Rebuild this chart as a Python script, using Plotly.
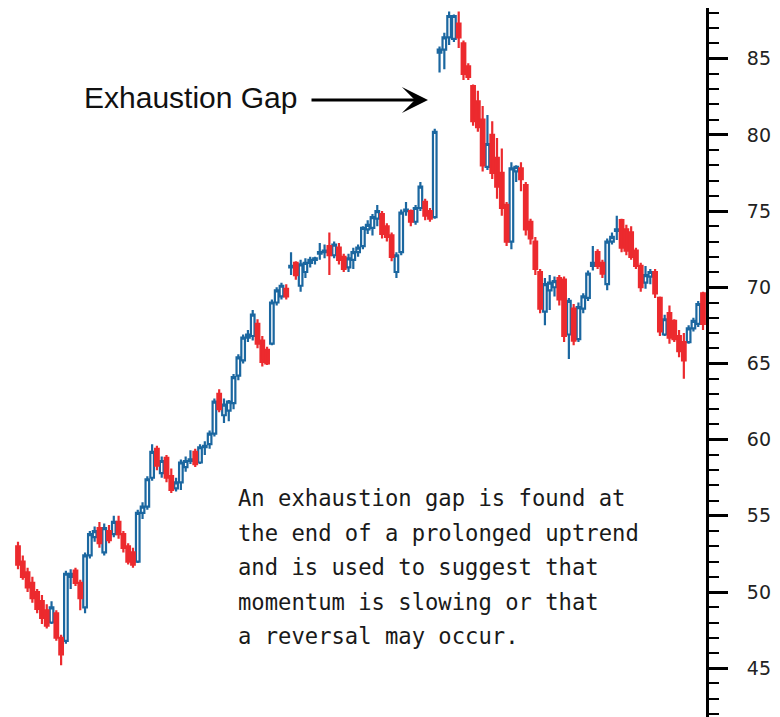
import plotly.graph_objects as go

# ---- data (price per trading session) ----
opens = [53.0, 52.0, 51.3, 50.6, 50.0, 49.4, 48.8, 48.0, 48.6, 47.0,
         46.8, 51.0, 51.4, 50.6, 49.0, 52.4, 53.6, 54.2, 52.6, 54.0,
         53.8, 54.6, 53.8, 53.0, 52.6, 52.0, 55.2, 55.6, 57.5, 59.4,
         57.8, 58.8, 57.6, 56.8, 57.2, 58.2, 58.6, 59.2, 58.5, 59.5,
         59.7, 60.4, 63.0, 61.6, 61.9, 62.4, 64.2, 65.2, 66.7, 66.8,
         67.6, 66.5, 65.9, 66.3, 69.0, 69.4, 69.9, 71.3, 71.6, 70.1,
         71.0, 71.6, 71.8, 72.2, 72.3, 72.7, 72.1, 72.6, 72.0, 71.3,
         71.8, 72.3, 72.7, 73.8, 73.9, 74.5, 74.8, 74.0, 73.4, 71.0,
         72.3, 75.0, 75.0, 74.3, 75.2, 75.6, 75.0, 74.6,
         85.4, 85.6, 86.4, 86.3, 87.3, 86.0, 84.5, 83.2, 82.2, 81.0,
         77.9, 80.0, 78.5, 77.5, 75.4, 73.0, 77.6, 77.8, 76.7, 74.3,
         73.0, 71.0, 68.4, 69.8, 70.0, 70.6,
         70.5, 66.9, 68.6, 66.6, 68.6, 69.3, 71.4, 72.3, 71.6, 70.2,
         73.0, 73.7, 74.4, 73.8, 73.6, 72.4, 71.4, 70.3, 70.7, 71.0,
         69.3, 66.9, 68.3, 67.8, 66.8, 66.4, 66.4, 67.3, 67.6, 69.6]
highs = [53.3, 52.4, 51.6, 51.0, 50.2, 49.8, 49.2, 49.4, 48.8, 47.2,
         51.4, 51.5, 51.6, 50.8, 52.6, 54.0, 54.3, 54.6, 54.5, 54.4,
         55.0, 55.0, 54.0, 53.2, 52.9, 55.4, 55.9, 57.6, 59.7, 59.6,
         58.9, 59.0, 58.1, 57.5, 58.7, 58.9, 59.3, 59.4, 59.7, 59.9,
         60.6, 62.7, 63.3, 62.7, 62.6, 64.3, 65.6, 66.9, 67.2, 68.5,
         67.9, 66.8, 66.1, 69.2, 70.0, 70.3, 70.2, 72.3, 71.7, 71.8,
         71.9, 72.0, 72.0, 72.9, 72.8, 73.6, 73.0, 72.9, 72.2, 72.2,
         72.6, 72.8, 74.0, 74.4, 74.8, 75.4, 75.0, 74.2, 73.6, 72.3,
         75.1, 75.6, 75.1, 75.4, 76.9, 75.8, 75.2, 80.4,
         85.8, 86.7, 88.1, 87.9, 88.1, 86.2, 84.7, 83.3, 82.9, 81.9,
         81.3, 80.9, 79.8, 79.1, 75.6, 78.2, 78.0, 78.2, 76.9, 74.5,
         73.3, 71.2, 70.6, 70.8, 70.7, 70.8,
         70.7, 69.3, 68.9, 69.0, 69.6, 71.1, 72.7, 72.5, 71.8, 73.2,
         73.6, 74.7, 74.5, 74.1, 74.0, 72.6, 71.6, 71.4, 71.2, 71.2,
         69.4, 68.2, 68.8, 67.9, 67.2, 67.0, 67.5, 68.0, 69.1, 69.7]
lows = [51.5, 50.8, 50.0, 49.3, 48.6, 47.9, 47.6, 47.9, 46.8, 45.2,
        46.6, 50.2, 50.4, 48.8, 48.6, 52.2, 53.3, 52.9, 52.4, 53.2,
        53.6, 53.5, 52.6, 51.8, 51.6, 51.9, 54.8, 55.4, 57.3, 58.0,
        57.5, 57.2, 56.5, 56.6, 56.7, 57.9, 58.4, 58.2, 58.4, 59.0,
        59.4, 60.2, 61.8, 61.1, 61.2, 62.0, 63.9, 65.0, 66.4, 66.5,
        66.0, 64.8, 64.9, 66.2, 68.8, 69.2, 69.2, 70.8, 70.5, 69.7,
        70.6, 71.3, 71.5, 71.8, 71.9, 70.8, 71.9, 71.5, 71.0, 71.0,
        71.2, 72.0, 72.5, 73.5, 73.4, 74.0, 73.2, 73.0, 71.7, 70.6,
        72.1, 74.7, 74.0, 74.1, 75.0, 74.4, 74.3, 74.5,
        84.1, 84.3, 85.9, 86.1, 85.7, 83.6, 83.6, 80.6, 80.2, 77.6,
        77.7, 77.1, 75.8, 74.7, 72.7, 72.5, 76.9, 76.3, 73.4, 72.8,
        70.8, 68.3, 67.5, 68.5, 69.4, 68.8,
        66.4, 65.3, 66.2, 66.4, 68.3, 69.1, 71.1, 71.2, 70.6, 69.8,
        72.8, 73.1, 72.3, 72.1, 71.8, 71.2, 69.7, 69.9, 70.2, 69.3,
        66.8, 66.8, 66.3, 66.4, 65.4, 64.0, 66.3, 67.1, 67.4, 67.2]
closes = [51.8, 51.0, 50.3, 49.6, 48.9, 48.3, 47.8, 49.0, 47.0, 45.9,
          51.2, 51.2, 50.6, 49.6, 52.4, 53.8, 54.0, 53.2, 54.2, 53.4,
          54.6, 53.8, 52.9, 52.0, 51.8, 55.2, 55.6, 57.4, 59.2, 58.3,
          58.6, 57.5, 56.7, 57.2, 58.5, 58.6, 58.7, 58.4, 59.5, 59.6,
          60.4, 62.5, 62.0, 62.3, 62.5, 64.1, 65.4, 66.7, 66.9, 68.2,
          66.3, 65.1, 65.0, 69.0, 69.8, 70.1, 69.4, 71.4, 70.8, 71.5,
          71.6, 71.8, 71.9, 72.3, 72.4, 72.1, 72.8, 71.8, 71.2, 71.9,
          72.3, 72.6, 73.9, 74.1, 74.6, 75.0, 73.5, 73.3, 72.0, 72.1,
          74.9, 75.1, 74.3, 75.2, 76.6, 74.7, 74.5, 80.2,
          85.6, 86.4, 87.8, 87.8, 86.4, 84.0, 83.8, 80.9, 80.5, 78.0,
          79.4, 77.5, 76.6, 75.2, 73.0, 77.8, 77.9, 77.1, 73.8, 73.2,
          71.2, 68.6, 70.2, 70.3, 70.4, 69.2,
          66.8, 69.1, 66.5, 68.7, 69.4, 70.9, 71.6, 71.4, 70.9, 73.0,
          73.3, 73.8, 72.6, 72.4, 72.0, 71.4, 70.0, 70.8, 71.0, 69.6,
          67.1, 67.9, 66.7, 66.6, 65.8, 65.2, 67.3, 67.8, 68.9, 67.6]

y_ticks = [45, 50, 55, 60, 65, 70, 75, 80, 85]

annotation_title = "Exhaustion Gap"
note_lines = ["An exhaustion gap is found at",
              "the end of a prolonged uptrend",
              "and is used to suggest that",
              "momentum is slowing or that",
              "a reversal may occur."]

BLUE = "#1b67a0"
RED = "#ec2a2e"

n = len(closes)
idx = list(range(n))
prev = [opens[0]] + closes[:-1]
is_blue = [c >= p for c, p in zip(closes, prev)]


def subset(flag):
    keep = [i for i in idx if is_blue[i] == flag]
    return dict(x=keep,
                open=[opens[i] for i in keep],
                high=[highs[i] for i in keep],
                low=[lows[i] for i in keep],
                close=[closes[i] for i in keep])


fig = go.Figure()
for flag, col in [(True, BLUE), (False, RED)]:
    fig.add_trace(go.Candlestick(
        **subset(flag),
        increasing=dict(line=dict(color=col, width=2.2), fillcolor="white"),
        decreasing=dict(line=dict(color=col, width=2.2), fillcolor=col),
        whiskerwidth=0,
        hoverinfo="skip",
        showlegend=False,
    ))

# the page body adds an 8px offset, so the figure is 8px smaller
OFF = 8
W, H = 780 - OFF, 717 - OFF
PLOT_W = 706 - OFF
SPACING = 685 / (n - 1)

fig.update_layout(
    width=W, height=H,
    margin=dict(l=0, r=W - PLOT_W, t=0, b=0),
    paper_bgcolor="white", plot_bgcolor="white",
    showlegend=False,
    boxgap=0.25, boxgroupgap=0,
    xaxis=dict(visible=False,
               range=[-(18 - OFF) / SPACING, n - 1 + 3 / SPACING],
               rangeslider=dict(visible=False), fixedrange=True),
    yaxis=dict(side="right", range=[41.8, 88.85 - OFF / 15.24],
               showline=True, linecolor="black", linewidth=3,
               showgrid=False, zeroline=False,
               tickmode="array", tickvals=y_ticks,
               ticks="outside", ticklen=19, tickwidth=2.5, tickcolor="black",
               tickfont=dict(family="DejaVu Sans", size=19, color="#222222"),
               ticklabelstandoff=15,
               minor=dict(dtick=1, tick0=0, ticks="outside", ticklen=10,
                          tickwidth=2, tickcolor="black", showgrid=False),
               fixedrange=True),
)


def px_x(p):
    return (p - OFF) / PLOT_W


def px_y(p):
    return 1 - (p - OFF) / H


annotations = [
    dict(text=annotation_title, xref="paper", yref="paper",
         x=px_x(82), y=px_y(97), xanchor="left", yanchor="middle",
         showarrow=False,
         font=dict(family="Liberation Sans, Arial", size=30, color="#111111")),
    dict(text="", xref="paper", yref="paper",
         x=px_x(428), y=px_y(100), ax=-118, ay=0,
         showarrow=True, arrowhead=3, arrowsize=1.45, arrowwidth=3,
         arrowcolor="black"),
]
for k, line in enumerate(note_lines):
    annotations.append(dict(
        text=line, xref="paper", yref="paper",
        x=px_x(236), y=px_y(498 + 34.6 * k), xanchor="left", yanchor="middle",
        showarrow=False,
        font=dict(family="DejaVu Sans Mono", size=22.2, color="#1a1a1a")))

fig.update_layout(annotations=annotations)

fig.write_html("out.html")
